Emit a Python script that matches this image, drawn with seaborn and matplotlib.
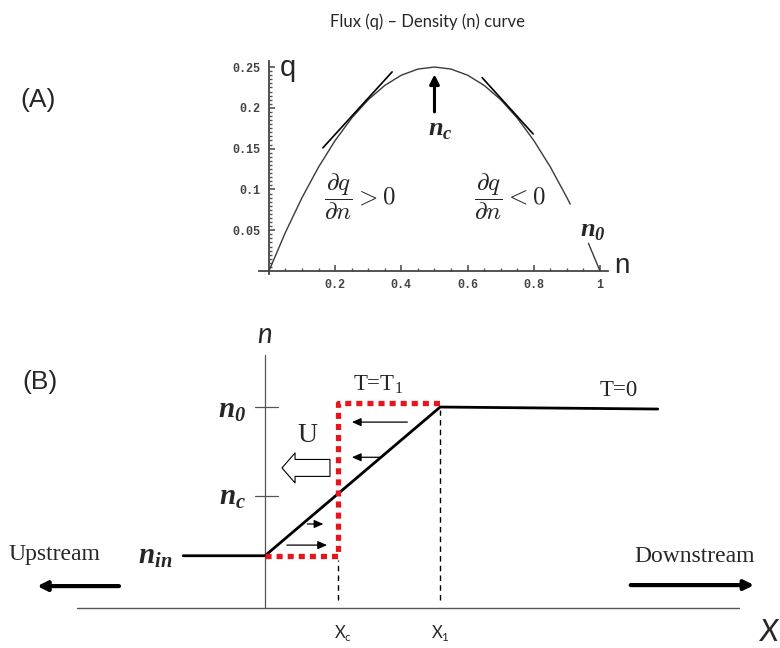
import numpy as np
import pandas as pd
import matplotlib
matplotlib.use("Agg")
import matplotlib.pyplot as plt
import seaborn as sns

# ---- panel A: flux-density curve ----
flux_n = [0.0, 0.05, 0.10, 0.15, 0.20, 0.25, 0.30, 0.35, 0.40, 0.45,
          0.50, 0.55, 0.60, 0.65, 0.70, 0.75, 0.80, 0.85, 0.90, 0.91]
flux_q = [0.0, 0.0475, 0.090, 0.1275, 0.160, 0.1875, 0.210, 0.2275, 0.240, 0.2475,
          0.250, 0.2475, 0.240, 0.2275, 0.210, 0.1875, 0.160, 0.1275, 0.090, 0.082]
tail_n = [0.965, 1.0]
tail_q = [0.034, 0.0]
tan_left_n = [0.163, 0.372]
tan_left_q = [0.151, 0.244]
tan_right_n = [0.644, 0.798]
tan_right_q = [0.237, 0.168]
xticks_a = [0.2, 0.4, 0.6, 0.8, 1.0]
xticklabels_a = ["0.2", "0.4", "0.6", "0.8", "1"]
yticks_a = [0.05, 0.10, 0.15, 0.20, 0.25]
yticklabels_a = ["0.05", "0.1", "0.15", "0.2", "0.25"]
n_peak = 0.5

# ---- panel B: density profile ----
profile_x = [-1.12, 0.0, 2.4, 5.38]
profile_n = [0.26, 0.26, 1.0, 0.99]
shock_x = [0.0, 1.0, 1.0, 2.4]
shock_n = [0.26, 0.26, 1.02, 1.02]
x_c, x_1 = 1.0, 2.4
n_in, n_c, n_0 = 0.26, 0.557, 1.0

sns.set_style("white")
plt.rcParams["font.family"] = ["DejaVu Sans"]

fig = plt.figure(figsize=(7.8, 6.48), dpi=100)

# ================= (A) =================
axA = fig.add_axes([259 / 780, (648 - 274.3) / 648, (608.3 - 259) / 780, (274.3 - 60.5) / 648])
dfa = pd.DataFrame({"n": flux_n, "q": flux_q})
sns.lineplot(data=dfa, x="n", y="q", sort=False, estimator=None, color="#3a3a3a", lw=1.0, ax=axA)
sns.lineplot(x=tail_n, y=tail_q, sort=False, estimator=None, color="#3a3a3a", lw=1.0, ax=axA)
sns.lineplot(x=tan_left_n, y=tan_left_q, sort=False, estimator=None, color="black", lw=1.2, ax=axA)
sns.lineplot(x=tan_right_n, y=tan_right_q, sort=False, estimator=None, color="black", lw=1.2, ax=axA)

axA.set_xlim(-0.03, 1.025)
axA.set_ylim(-0.004, 0.258)
for s in ["top", "right"]:
    axA.spines[s].set_visible(False)
for s in ["left", "bottom"]:
    axA.spines[s].set_position(("data", 0))
    axA.spines[s].set_color("#444444")
    axA.spines[s].set_linewidth(1.3)
axA.set_xticks(xticks_a)
axA.set_xticklabels(xticklabels_a)
axA.set_yticks(yticks_a)
axA.set_yticklabels(yticklabels_a)
axA.set_xticks(np.arange(0.05, 1.0, 0.05), minor=True)
axA.set_yticks(np.arange(0.005, 0.255, 0.005), minor=True)
axA.tick_params(which="both", bottom=True, left=True, top=False, right=False)
axA.tick_params(which="major", direction="in", length=4.5, width=1.1, color="#444444",
                labelsize=8.5, pad=6)
axA.tick_params(which="minor", direction="in", length=2.2, width=1.0, color="#555555")
for lab in axA.get_xticklabels() + axA.get_yticklabels():
    lab.set_family("Liberation Mono")
    lab.set_weight("bold")
    lab.set_color("#444444")
axA.set_xlabel("")
axA.set_ylabel("")
axA.patch.set_alpha(0)

axA.text(0.057, 0.249, "q", fontsize=21, family="Liberation Sans", ha="center", va="center")
axA.text(1.066, 0.006, "n", fontsize=20, family="Liberation Sans", ha="center", va="center",
         clip_on=False)
axA.annotate("", xy=(n_peak, 0.241), xytext=(n_peak, 0.195),
             arrowprops=dict(arrowstyle="-|>", lw=2.2, color="black", mutation_scale=14,
                             shrinkA=0, shrinkB=0))
axA.text(0.517, 0.172, r"$\mathregular{n}_\mathregular{c}$", fontsize=19,
         family="Liberation Serif", style="italic", weight="bold", ha="center", va="center")
axA.text(0.98, 0.048, r"$\mathregular{n}_\mathregular{0}$", fontsize=19,
         family="Liberation Serif", style="italic", weight="bold", ha="center", va="center",
         clip_on=False)
axA.text(0.275, 0.091, r"$\dfrac{\partial q}{\partial n} > 0$", fontsize=18,
         math_fontfamily="cm", ha="center", va="center")
axA.text(0.728, 0.091, r"$\dfrac{\partial q}{\partial n} < 0$", fontsize=18,
         math_fontfamily="cm", ha="center", va="center")

fig.text(427 / 780, 1 - 22 / 648, "Flux (q) \u2013 Density (n) curve", fontsize=12,
         family="Lato", ha="center", va="center")
fig.text(38 / 780, 1 - 100 / 648, "(A)", fontsize=19, family="Liberation Sans",
         ha="center", va="center")

# ================= (B) =================
axB = fig.add_axes([0, 0, 1, 328 / 648])
axB.set_xlim(-3.63, 7.055)
axB.set_ylim(-0.199, 1.433)
axB.axis("off")
axB.patch.set_alpha(0)

# axes
axB.plot([-2.58, 6.5], [0, 0], color="#555555", lw=1.0)
axB.plot([0, 0], [0, 1.26], color="#555555", lw=0.9)
for lvl in [n_0, n_c]:
    axB.plot([-0.137, 0.178], [lvl, lvl], color="#555555", lw=0.9)

# dashed guides
axB.plot([x_c, x_c], [0.04, 0.24], color="black", lw=1.0, ls=(0, (4, 3)))
axB.plot([x_1, x_1], [0.04, 0.985], color="black", lw=1.0, ls=(0, (4, 3)))

dfb = pd.DataFrame({"x": profile_x, "n": profile_n})
sns.lineplot(data=dfb, x="x", y="n", sort=False, estimator=None, color="black", lw=2.0, ax=axB)
dfs = pd.DataFrame({"x": shock_x, "n": shock_n})
sns.lineplot(data=dfs, x="x", y="n", sort=False, estimator=None, color="#e8141b", lw=3.8,
             ls=(0, (1.15, 0.95)), ax=axB)
axB.set_xlabel("")
axB.set_ylabel("")

# small characteristic arrows
small_arrows = [((1.95, 0.925), (1.19, 0.925)), ((1.58, 0.75), (1.19, 0.75)),
                ((0.58, 0.418), (0.80, 0.418)), ((0.30, 0.313), (0.85, 0.313))]
for tail, head in small_arrows:
    axB.annotate("", xy=head, xytext=tail,
                 arrowprops=dict(arrowstyle="-|>,head_length=0.5,head_width=0.22", lw=0.9,
                                 color="black", mutation_scale=11, shrinkA=0, shrinkB=0))

# hollow U arrow
axB.annotate("", xy=(0.233, 0.697), xytext=(0.89, 0.697),
             arrowprops=dict(arrowstyle="simple,head_length=0.47,head_width=1.08,tail_width=0.61",
                             fc="white", ec="black", lw=0.8, mutation_scale=20,
                             shrinkA=0, shrinkB=0))
axB.text(0.58, 0.86, "U", fontsize=20, family="Liberation Serif", ha="center", va="center")

# stream arrows
axB.annotate("", xy=(-3.12, 0.109), xytext=(-2.0, 0.109),
             arrowprops=dict(arrowstyle="-|>", lw=3.0, color="black", mutation_scale=14,
                             shrinkA=0, shrinkB=0))
axB.annotate("", xy=(6.70, 0.114), xytext=(5.01, 0.114),
             arrowprops=dict(arrowstyle="-|>", lw=3.0, color="black", mutation_scale=14,
                             shrinkA=0, shrinkB=0))
axB.text(-2.88, 0.264, "Upstream", fontsize=17, family="Liberation Serif",
         ha="center", va="center")
axB.text(5.88, 0.254, "Downstream", fontsize=17, family="Liberation Serif",
         ha="center", va="center")

# labels
bi = dict(family="Liberation Serif", style="italic", weight="bold", fontsize=21,
          ha="center", va="center")
axB.text(-0.45, 0.985, r"$\mathregular{n}_\mathregular{0}$", **bi)
axB.text(-0.45, 0.552, r"$\mathregular{n}_\mathregular{c}$", **bi)
axB.text(-1.50, 0.254, r"$\mathregular{n}_\mathregular{in}$", **bi)
axB.text(1.55, 1.11, r"T=T$_\mathregular{1}$", fontsize=16.5, family="Liberation Serif",
         ha="center", va="center")
axB.text(4.85, 1.08, "T=0", fontsize=16.5, family="Liberation Serif", ha="center", va="center")
axB.text(0.0, 1.36, "n", fontsize=20, family="Lato", style="italic", ha="center", va="center")
axB.text(6.89, -0.12, "X", fontsize=22, family="Lato", style="italic", ha="center", va="center")
axB.text(1.07, -0.124, r"X$_\mathregular{c}$", fontsize=12, family="Lato",
         ha="center", va="center")
axB.text(2.4, -0.124, r"X$_\mathregular{1}$", fontsize=12, family="Lato",
         ha="center", va="center")
axB.text(-3.08, 1.124, "(B)", fontsize=19, family="Liberation Sans", ha="center", va="center")

fig.savefig("out.png", dpi=100)
